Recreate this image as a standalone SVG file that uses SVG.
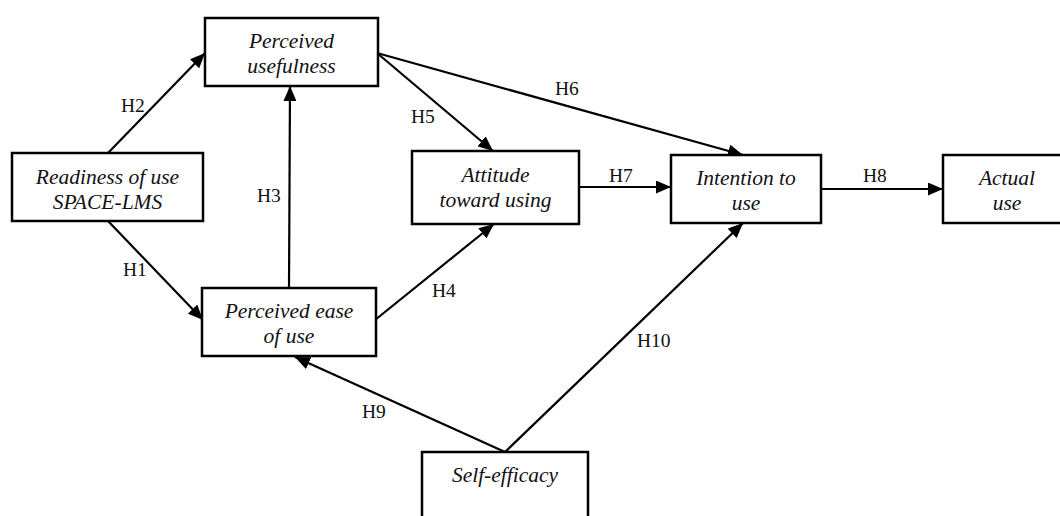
<svg xmlns="http://www.w3.org/2000/svg" width="1060" height="516" viewBox="0 0 1060 516">
<style>
.box{fill:#fff;stroke:#000;stroke-width:2.5}
.nt{font-family:'Liberation Serif','Times New Roman','DejaVu Serif',serif;font-style:italic;font-size:21.5px;fill:#111;text-anchor:middle}
.lb{font-family:'Liberation Serif','Times New Roman','DejaVu Serif',serif;font-size:19.5px;fill:#111}
.cn{stroke:#000;stroke-width:2.2;fill:none;marker-end:url(#ah)}
</style>
<defs>
<marker id="ah" viewBox="0 0 15 13" refX="15" refY="6.5" markerWidth="15" markerHeight="13" markerUnits="userSpaceOnUse" orient="auto">
<path d="M0,0 L15,6.5 L0,13 z" fill="#000"/>
</marker>
</defs>
<rect width="1060" height="516" fill="#fff"/>
<g id="connectors">
<line class="cn" x1="108" y1="153" x2="205" y2="53"/>
<line class="cn" x1="108" y1="221" x2="203" y2="320"/>
<line class="cn" x1="289" y1="288" x2="290" y2="86"/>
<line class="cn" x1="377" y1="53" x2="493" y2="151"/>
<line class="cn" x1="377" y1="53" x2="743" y2="155"/>
<line class="cn" x1="375" y1="320" x2="494" y2="224"/>
<line class="cn" x1="579" y1="187" x2="671" y2="187"/>
<line class="cn" x1="821" y1="189" x2="943" y2="189"/>
<line class="cn" x1="505" y1="452" x2="295" y2="357"/>
<line class="cn" x1="505" y1="452" x2="743" y2="223"/>
<text class="lb" x="121" y="112">H2</text>
<text class="lb" x="123" y="276">H1</text>
<text class="lb" x="257" y="202">H3</text>
<text class="lb" x="411" y="123">H5</text>
<text class="lb" x="555" y="95">H6</text>
<text class="lb" x="432" y="297">H4</text>
<text class="lb" x="609" y="182">H7</text>
<text class="lb" x="863" y="182">H8</text>
<text class="lb" x="362" y="418">H9</text>
<text class="lb" x="637" y="347">H10</text>
</g>
<g id="perceived-usefulness">
<rect class="box" x="205" y="18" width="173" height="68"/>
<text class="nt" x="291.5" y="48">Perceived</text>
<text class="nt" x="291.5" y="73">usefulness</text>
</g>
<g id="readiness">
<rect class="box" x="12" y="153" width="191" height="68"/>
<text class="nt" x="107.5" y="184">Readiness of use</text>
<text class="nt" x="107.5" y="209">SPACE-LMS</text>
</g>
<g id="perceived-ease">
<rect class="box" x="202" y="288" width="174" height="68"/>
<text class="nt" x="289" y="318">Perceived ease</text>
<text class="nt" x="289" y="343">of use</text>
</g>
<g id="attitude">
<rect class="box" x="412" y="151" width="167" height="73"/>
<text class="nt" x="495.5" y="182">Attitude</text>
<text class="nt" x="495.5" y="207">toward using</text>
</g>
<g id="intention">
<rect class="box" x="671" y="155" width="150" height="68"/>
<text class="nt" x="746" y="185">Intention to</text>
<text class="nt" x="746" y="210">use</text>
</g>
<g id="actual-use">
<rect class="box" x="943" y="155" width="128" height="68"/>
<text class="nt" x="1007" y="185">Actual</text>
<text class="nt" x="1007" y="210">use</text>
</g>
<g id="self-efficacy">
<rect class="box" x="422" y="452" width="166" height="80"/>
<text class="nt" x="505" y="482">Self-efficacy</text>
</g>
</svg>
